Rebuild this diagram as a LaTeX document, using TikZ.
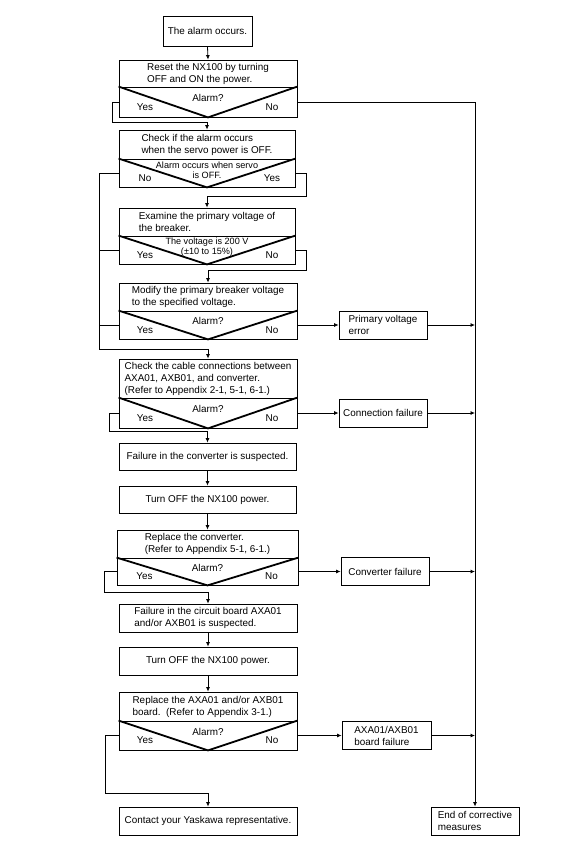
\documentclass[tikz,border=0pt]{standalone}
\usepackage{fontspec}
\setmainfont{Liberation Sans}
\usetikzlibrary{arrows.meta}
\newcommand{\boxfont}{\fontsize{9.9}{12}\selectfont}
\newcommand{\notefont}{\fontsize{9.1}{10}\selectfont}
\tikzset{
    box/.style={rectangle, draw, line width=0.8pt, minimum width=178pt,
                minimum height=28pt, inner sep=0, align=left},
    sidebox/.style={rectangle, draw, line width=0.8pt, minimum width=88pt,
                minimum height=28pt, inner sep=0, align=left},
    vline/.style={line width=1.8pt},
    flow/.style={line width=0.8pt, -{Latex[length=4.5pt,width=4pt]}},
    link/.style={line width=0.8pt},
    answerstyle/.style={anchor=center, font=\boxfont},
    askstyle/.style={anchor=center, font=\boxfont, yshift=4pt},
    notestyle/.style={anchor=center, align=center, font=\notefont, yshift=3pt},
}
\newcommand{\askLayer}[4]{%
    \draw[vline] (#1.north west) -- (#1.south) -- (#1.north east);
    \node[answerstyle] (#1yes) at ([xshift=-63pt,yshift=-5pt]#1.center) {#2};
    \node[answerstyle] (#1no) at ([xshift=64pt,yshift=-5pt]#1.center) {#4};
    \node[askstyle] (#1ask) at (#1.center) {#3};
}
\newcommand{\askLayerN}[4]{%
    \draw[vline] (#1.north west) -- (#1.south) -- (#1.north east);
    \node[answerstyle] (#1yes) at ([xshift=-62pt,yshift=-5pt]#1.center) {#2};
    \node[answerstyle] (#1no) at ([xshift=65pt,yshift=-5pt]#1.center) {#4};
    \node[notestyle] (#1ask) at (#1.center) {#3};
}
\begin{document}
\begin{tikzpicture}[x=1pt, y=1pt, font=\boxfont]
        \useasboundingbox (0,0) rectangle (578,-864);
        \node[box, minimum width=89pt, minimum height=30pt] (S0) at (207.5,-31) {The alarm occurs.};
        %
        % Reset
        \node[box, minimum height=27pt] (P1) at (208,-73.5) {Reset the NX100 by turning\\OFF and ON the power.};
        \node[box, minimum height=30pt] (P1d) at (208,-102) {};
        \askLayer{P1d}{Yes}{Alarm?}{No}
        %
        % Servo check
        \node[box, minimum width=176pt, minimum height=29pt] (P2) at (207,-144.5) {Check if the alarm occurs\\when the servo power is OFF.};
        \node[box, minimum width=176pt] (P2d) at (207,-173) {};
        \askLayerN{P2d}{No}{Alarm occurs when servo\\is OFF.}{Yes}
        %
        % Voltage check
        \node[box, minimum width=176pt] (P3) at (207,-222) {Examine the primary voltage of\\the breaker.};
        \node[box, minimum width=176pt] (P3d) at (207,-250) {};
        \askLayerN{P3d}{Yes}{The voltage is 200 V\\(±10 to 15\%)}{No}
        %
        \node[box] (P4) at (208,-297) {Modify the primary breaker voltage\\to the specified voltage.};
        \node[box] (P4d) at (208,-325) {};
        \askLayer{P4d}{Yes}{Alarm?}{No}
        \node[sidebox] (E1) at (383,-325) {Primary voltage\\error};
        %
        % Cables
        \node[box, minimum height=39pt] (P5) at (208,-378.5) {Check the cable connections between\\AXA01, AXB01, and converter.\\(Refer to Appendix 2-1, 5-1, 6-1.)};
        \node[box, minimum height=30pt] (P5d) at (208,-413) {};
        \askLayer{P5d}{Yes}{Alarm?}{No}
        \node[sidebox] (E2) at (383,-413) {Connection failure};
        %
        % Converter
        \node[box, minimum width=177pt, minimum height=27pt] (P6) at (207.5,-456.5) {Failure in the converter is suspected.};
        \node[box, minimum width=177pt, minimum height=27pt] (P7) at (207.5,-499.5) {Turn OFF the NX100 power.};
        \node[box, minimum width=181pt] (P8) at (207.5,-544) {Replace the converter.\\(Refer to Appendix 5-1, 6-1.)};
        \node[box, minimum width=181pt, minimum height=27pt] (P8d) at (207.5,-571.5) {};
        \askLayer{P8d}{Yes}{Alarm?}{No}
        \node[sidebox] (E3) at (385,-571.5) {Converter failure};
        %
        % Circuit boards
        \node[box] (P9) at (208,-618) {Failure in the circuit board AXA01\\and/or AXB01 is suspected.};
        \node[box] (P10) at (208,-661) {Turn OFF the NX100 power.};
        \node[box, minimum height=29pt] (P11) at (208,-706.5) {Replace the AXA01 and/or AXB01\\board.\ \ (Refer to Appendix 3-1.)};
        \node[box, minimum height=29pt] (P11d) at (208,-735.5) {};
        \askLayer{P11d}{Yes}{Alarm?}{No}
        \node[sidebox, minimum width=89pt] (E4) at (386.5,-735.5) {AXA01/AXB01\\board failure};
        %
        \node[box] (P12) at (208,-821) {Contact your Yaskawa representative.};
        \node[sidebox] (E5) at (475,-821) {End of corrective\\measures};
        %
        %
        % Connectors
        \draw[flow] (S0.south) -- (P1.north);
        \draw[flow] (P1d.west) -- ++(-6,0) |- ([yshift=7pt]P2.north) -- (P2.north);
        \draw[flow] (P1d.east) -| (E5.north);
        \draw[flow] (P2d.west) -- ++(-19,0) |- ([yshift=9pt]P5.north) -- (P5.north);
        \draw[flow] (P2d.east) -- ++(11,0) |- ([yshift=11pt]P3.north) -- (P3.north);
        \draw[link] (P3d.west) -- ++(-19,0);
        \draw[flow] (P3d.east) -- ++(11,0) |- ([yshift=12pt]P4.north) -- (P4.north);
        \draw[link] (P4d.west) -- ++(-19,0);
        \draw[flow] (P4d.east) -- (E1.west);
        \draw[flow] (E1.east) -- (E1.east -| E5.north);
        \draw[flow] (P5d.west) -- ++(-9,0) |- ([yshift=11pt]P6.north) -- (P6.north);
        \draw[flow] (P5d.east) -- (E2.west);
        \draw[flow] (E2.east) -- (E2.east -| E5.north);
        \draw[flow] (P6.south) -- (P7.north);
        \draw[flow] (P7.south) -- (P8.north);
        \draw[flow] (P8d.west) -- ++(-12,0) |- ([yshift=11pt]P9.north) -- (P9.north);
        \draw[flow] (P8d.east) -- (E3.west);
        \draw[flow] (E3.east) -- (E3.east -| E5.north);
        \draw[flow] (P9.south) -- (P10.north);
        \draw[flow] (P10.south) -- (P11.north);
        \draw[flow] (P11d.west) -- ++(-13,0) |- ([yshift=13pt]P12.north) -- (P12.north);
        \draw[flow] (P11d.east) -- (E4.west);
        \draw[flow] (E4.east) -- (E4.east -| E5.north);
    \end{tikzpicture}
\end{document}
